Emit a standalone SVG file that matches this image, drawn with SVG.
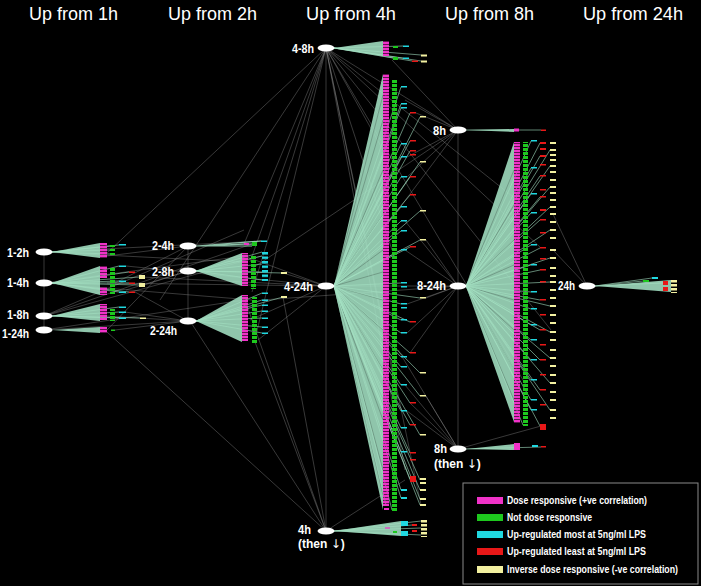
<svg xmlns="http://www.w3.org/2000/svg" width="701" height="586" viewBox="0 0 701 586">
<defs>
<pattern id="pm" width="10" height="3" patternUnits="userSpaceOnUse"><rect width="10" height="2.4" fill="#f032c8"/></pattern>
<pattern id="pg" width="10" height="4" patternUnits="userSpaceOnUse"><rect width="10" height="3" fill="#1ec81e"/></pattern>
<pattern id="py" width="10" height="4" patternUnits="userSpaceOnUse"><rect width="10" height="2.5" fill="#f2f0a0"/></pattern>
<pattern id="pc" width="10" height="4.5" patternUnits="userSpaceOnUse"><rect width="10" height="2.5" fill="#20d8e0"/></pattern>
</defs>
<style>
.hd{font-family:"Liberation Sans",Arial,sans-serif;font-size:18px;fill:#fff}
.lb{font-family:"Liberation Sans","DejaVu Sans",sans-serif;font-size:12px;font-weight:bold;fill:#fff}
.ar{font-family:"DejaVu Sans",sans-serif;font-weight:normal}
.lg{font-family:"Liberation Sans",Arial,sans-serif;font-size:10px;font-weight:bold;fill:#fff}
.nd{fill:#fff}
.fan{fill:#a3e0c3;opacity:.88}
.fl{stroke:#a3e0c3;stroke-width:.7;fill:none;opacity:.85}
.dk{stroke:#000;stroke-width:.6;opacity:.35}
.gr{stroke:#8c8c8c;stroke-width:.5;fill:none;opacity:.8}
.m{fill:#f032c8}.g{fill:#1ec81e}.c{fill:#20d8e0}.r{fill:#e81818}.y{fill:#f2f0a0}
</style>
<rect width="701" height="586" fill="#000"/>

<g id="headers">
<text class="hd" x="29" y="20" textLength="89" lengthAdjust="spacingAndGlyphs">Up from 1h</text>
<text class="hd" x="168" y="20" textLength="89" lengthAdjust="spacingAndGlyphs">Up from 2h</text>
<text class="hd" x="306" y="20" textLength="90" lengthAdjust="spacingAndGlyphs">Up from 4h</text>
<text class="hd" x="445" y="20" textLength="89" lengthAdjust="spacingAndGlyphs">Up from 8h</text>
<text class="hd" x="583" y="20" textLength="100" lengthAdjust="spacingAndGlyphs">Up from 24h</text>
</g>

<g id="connectors">
<path class="gr" d="M44,252V330M188,246V321M326,48V531M458,130V449"/>
<path class="gr" d="M326,48L107,253M326,48L160,300M326,48L244,244M326,48L250,262M326,48L252,292M326,48L256,335M326,48L383,150M326,48L392,250M326,48L398,400M326,48L405,470M326,48L421,505M326,48L458,130M326,48L541,248M326,48L517,200M326,48L551,330M326,48L526,385"/>
<path class="gr" d="M326,286L107,283M326,286L126,266M326,286L244,256M326,286L250,320M326,286L258,340M326,286L141,277M326,286L283,273"/>
<path class="gr" d="M326,531L245,300M326,531L255,342M326,531L190,321M326,531L107,332M326,531L283,297M326,531L405,480"/>
<path class="gr" d="M458,130L405,100M458,130L416,113M458,130L407,157M458,130L407,177M458,130L383,230M458,130L250,270M458,130L392,60"/>
<path class="gr" d="M458,286L405,221M458,286L405,250M458,286L407,304M458,286L410,353M458,286L426,298M458,286L426,240M458,286L407,333M458,286L262,300M458,286L334,286"/>
<path class="gr" d="M458,449L410,403M458,449L405,385M458,449L407,411M458,449L426,396M458,449L398,350M458,449L541,426"/>
<path class="gr" d="M587,286L553,250M587,286L553,214"/>
<path class="gr" d="M44,316L252,244M44,316L262,256M44,316L244,230M44,330L244,300M44,330L188,321M44,283L244,256M44,283L252,300M44,252L262,241M44,252L242,262"/>
<path class="gr" d="M188,246L107,256M188,246L115,283M188,271L126,290M188,271L141,286M188,321L107,316M188,321L125,312M188,321L115,330M188,321L135,292M188,246L107,330"/>
</g>

<g id="fans">
<polygon class="fan" points="52,252 100,243 100,258"/>
<path class="fl" d="M52,252L110,246M52,252L110,250M52,252L110,254M52,252L119,245"/>
<polygon class="fan" points="52,283 100,266 100,295"/>
<path class="fl" d="M52,283L119,266M52,283L119,281M52,283L119,292M52,283L129,272M52,283L129,283M52,283L129,292M52,283L139,277M52,283L139,285"/>
<polygon class="fan" points="52,316 100,304 100,321"/>
<path class="fl" d="M52,316L119,307M52,316L119,312M52,316L119,318M52,316L140,318"/>
<polygon class="fan" points="52,330 100,327 100,333"/>
<path class="fl" d="M196,246L244,244M196,246L252,244M196,246L261,241M196,246L252,246" style="stroke-width:1.2"/>
<polygon class="fan" points="196,271 242,253 242,286"/>
<path class="fl" d="M196,271L262,252M196,271L262,256M196,271L262,264M196,271L262,272M196,271L262,280M196,271L283,273"/>
<polygon class="fan" points="196,321 242,295 242,342"/>
<path class="fl" d="M196,321L262,293M196,321L262,300M196,321L262,305M196,321L262,311M196,321L262,318M196,321L262,327M196,321L262,333M196,321L283,297"/>
<polygon class="fan" points="334,48 383,41 383,56"/>
<path class="fl" d="M334,48L393,58M334,48L403,46M334,48L403,58M334,48L412,61M334,48L421,55M334,48L421,61"/>
<polygon class="fan" points="334,286 383,74 383,510"/>
<path class="dk" d="M334,286L383,120M334,286L383,170M334,286L383,215M334,286L383,250M334,286L383,272M334,286L383,300M334,286L383,330M334,286L383,370M334,286L383,420M334,286L383,470M334,286L383,95M334,286L383,495"/>
<path class="fl" d="M334,286L401,87M334,286L401,104M334,286L401,108M334,286L401,144M334,286L401,157M334,286L401,177M334,286L401,207M334,286L401,221M334,286L401,231M334,286L401,250M334,286L401,283M334,286L401,304M334,286L401,320M334,286L401,333M334,286L401,357M334,286L401,367M334,286L401,385M334,286L401,411M334,286L401,428M334,286L401,452M334,286L401,490M334,286L401,498M334,286L410,113M334,286L410,141M334,286L410,151M334,286L410,177M334,286L410,195M334,286L410,247M334,286L410,322M334,286L410,353M334,286L410,403M334,286L410,425M334,286L410,453M334,286L410,479M334,286L420,117M334,286L420,162M334,286L420,211M334,286L420,240M334,286L420,298M334,286L420,373M334,286L420,396M334,286L420,435M334,286L420,480M334,286L420,490M334,286L420,499M334,286L420,505M334,286L392,510M334,286L386,505"/>
<polygon class="fan" points="334,531 401,521 401,536"/>
<path class="fl" d="M334,531L421,521M334,531L421,528M334,531L421,535M334,531L412,525"/>
<polygon class="fan" points="466,130 514,129 514,132"/>
<path class="fl" d="M466,130L541,130"/>
<polygon class="fan" points="466,286 514,142 514,422"/>
<path class="dk" d="M466,286L514,170M466,286L514,205M466,286L514,240M466,286L514,265M466,286L514,300M466,286L514,330M466,286L514,370M466,286L514,400"/>
<path class="fl" d="M466,286L531,141M466,286L531,168M466,286L531,194M466,286L531,213M466,286L531,245M466,286L531,265M466,286L531,292M466,286L531,309M466,286L531,325M466,286L531,340M466,286L531,360M466,286L531,380M466,286L531,400M466,286L531,410M466,286L540,143M466,286L540,156M466,286L540,176M466,286L540,197M466,286L540,220M466,286L540,248M466,286L540,270M466,286L540,300M466,286L540,330M466,286L540,360M466,286L540,390M466,286L540,426M466,286L550,150M466,286L550,166M466,286L550,187M466,286L550,207M466,286L550,230M466,286L550,258M466,286L550,282M466,286L550,306M466,286L550,332M466,286L550,358M466,286L550,383M466,286L550,410M466,286L523,425"/>
<polygon class="fan" points="466,449 514,444 514,450"/>
<path class="fl" d="M466,449L541,447"/>
<polygon class="fan" points="595,286 671,280 671,292"/>
<path class="fl" d="M595,286L643,281M595,286L652,278M595,286L663,283"/>
</g>

<g id="genes-1h">
<rect x="100" y="243" width="7" height="15" fill="url(#pm)"/>
<rect class="g" x="110" y="245" width="5" height="2"/><rect class="g" x="110" y="249" width="5" height="2"/><rect class="g" x="110" y="253" width="5" height="2"/>
<rect class="c" x="119" y="244" width="7" height="1.5"/>
<rect x="100" y="266" width="7" height="12" fill="url(#pm)"/>
<rect x="100" y="287" width="7" height="8" fill="url(#pm)"/>
<rect x="110" y="267" width="5" height="27" fill="url(#pg)"/>
<rect class="c" x="119" y="265.5" width="7" height="1.5"/><rect class="c" x="119" y="280.5" width="7" height="1.5"/><rect class="c" x="119" y="291.5" width="7" height="1.5"/>
<rect class="r" x="129" y="271.5" width="6" height="1.5"/><rect class="r" x="129" y="282.5" width="6" height="1.5"/><rect class="r" x="129" y="291.5" width="6" height="1.5"/>
<rect x="139" y="275" width="6" height="4" class="y"/><rect x="139" y="283" width="6" height="4" class="y"/>
<rect x="100" y="304" width="7" height="16" fill="url(#pm)"/>
<rect x="110" y="309" width="5" height="12" fill="url(#pg)"/>
<rect class="c" x="119" y="306.5" width="7" height="1.5"/><rect class="c" x="119" y="311.5" width="7" height="1.5"/><rect class="c" x="119" y="317.5" width="7" height="1.5"/>
<rect class="y" x="140" y="317.5" width="6" height="1.5"/>
<rect x="100" y="327" width="7" height="6" fill="url(#pm)"/>
<rect class="g" x="111" y="329.5" width="4" height="1.5"/>
</g>

<g id="genes-2h">
<rect class="m" x="244" y="243" width="5" height="2"/><rect class="g" x="252" y="242" width="5" height="4"/><rect class="c" x="261" y="240.5" width="6" height="1.5"/>
<rect x="242" y="253" width="6" height="33" fill="url(#pm)"/>
<rect x="251" y="256" width="5" height="33" fill="url(#pg)"/>
<rect x="262" y="251" width="6" height="30" fill="url(#pc)"/>
<rect class="y" x="281" y="272" width="6" height="2"/><rect class="y" x="281" y="296" width="6" height="2"/>
<rect x="242" y="295" width="6" height="46" fill="url(#pm)"/>
<rect x="252" y="297" width="5" height="46" fill="url(#pg)"/>
<rect class="c" x="262" y="292.5" width="6" height="1.5"/><rect class="c" x="262" y="299.5" width="6" height="1.5"/><rect class="c" x="262" y="304.5" width="6" height="1.5"/><rect class="c" x="262" y="310.5" width="6" height="1.5"/><rect class="c" x="262" y="317.5" width="6" height="1.5"/><rect class="c" x="262" y="326.5" width="6" height="1.5"/><rect class="c" x="262" y="332.5" width="6" height="1.5"/>
</g>

<g id="genes-4h">
<rect x="383" y="41" width="6" height="15" fill="url(#pm)"/>
<rect class="g" x="393" y="46" width="5" height="2"/><rect class="g" x="393" y="57" width="5" height="3"/>
<rect class="c" x="403" y="45.5" width="6" height="1.5"/><rect class="c" x="403" y="57.5" width="6" height="1.5"/>
<rect class="r" x="412" y="60.5" width="6" height="1.5"/>
<rect class="y" x="421" y="54.5" width="6" height="2"/><rect class="y" x="421" y="60.5" width="6" height="2"/>
<rect x="383" y="74" width="6" height="432" fill="url(#pm)"/>
<rect class="m" x="384" y="508" width="5" height="2"/>
<rect x="392" y="79" width="5" height="433" fill="url(#pg)"/>
<g class="c">
<rect x="401" y="86" width="6" height="1.5"/><rect x="401" y="103" width="6" height="1.5"/><rect x="401" y="107" width="6" height="1.5"/><rect x="401" y="143" width="6" height="1.5"/><rect x="401" y="156" width="6" height="1.5"/><rect x="401" y="176" width="6" height="1.5"/><rect x="401" y="206" width="6" height="1.5"/><rect x="401" y="220" width="6" height="1.5"/><rect x="401" y="230" width="6" height="1.5"/><rect x="401" y="249" width="6" height="1.5"/><rect x="401" y="282" width="6" height="1.5"/><rect x="401" y="286" width="6" height="1.5"/><rect x="401" y="303" width="6" height="1.5"/><rect x="401" y="307" width="6" height="1.5"/><rect x="401" y="319" width="6" height="1.5"/><rect x="401" y="332" width="6" height="1.5"/><rect x="401" y="356" width="6" height="1.5"/><rect x="401" y="366" width="6" height="1.5"/><rect x="401" y="384" width="6" height="1.5"/><rect x="401" y="410" width="6" height="1.5"/><rect x="401" y="427" width="6" height="1.5"/><rect x="401" y="451" width="6" height="1.5"/><rect x="401" y="489" width="6" height="2"/><rect x="401" y="497" width="6" height="2"/>
</g>
<g class="r">
<rect x="410" y="112" width="6" height="1.5"/><rect x="410" y="140" width="6" height="1.5"/><rect x="410" y="150" width="6" height="1.5"/><rect x="410" y="154" width="6" height="1.5"/><rect x="410" y="176" width="6" height="1.5"/><rect x="410" y="194" width="6" height="1.5"/><rect x="410" y="246" width="6" height="1.5"/><rect x="410" y="321" width="6" height="1.5"/><rect x="410" y="352" width="6" height="1.5"/><rect x="410" y="402" width="6" height="1.5"/><rect x="410" y="424" width="6" height="1.5"/><rect x="410" y="452" width="6" height="1.5"/><rect x="410" y="459" width="6" height="1.5"/><rect x="410" y="476" width="6" height="6"/>
</g>
<g class="y">
<rect x="420" y="116" width="6" height="1.5"/><rect x="420" y="161" width="6" height="1.5"/><rect x="420" y="210" width="6" height="1.5"/><rect x="420" y="239" width="6" height="1.5"/><rect x="420" y="297" width="6" height="1.5"/><rect x="420" y="372" width="6" height="1.5"/><rect x="420" y="395" width="6" height="1.5"/><rect x="420" y="434" width="6" height="1.5"/><rect x="420" y="478" width="6" height="2"/><rect x="420" y="482" width="6" height="2"/><rect x="420" y="489" width="6" height="2"/><rect x="420" y="498" width="6" height="2"/><rect x="420" y="504" width="6" height="2"/>
</g>
<rect class="m" x="385" y="527" width="5" height="2" opacity=".6"/>
<rect class="g" x="393" y="531" width="4" height="2"/>
<rect class="c" x="401" y="521" width="7" height="5"/><rect class="c" x="401" y="531" width="7" height="5"/>
<rect class="r" x="412" y="524" width="5" height="2"/><rect class="r" x="412" y="530" width="5" height="2"/>
<rect x="421" y="519" width="6" height="18" fill="url(#py)"/>
</g>

<g id="genes-8h">
<rect class="m" x="514" y="128.5" width="5" height="3"/><rect class="r" x="541" y="129.5" width="5" height="1.5"/>
<rect x="514" y="142" width="6" height="281" fill="url(#pm)"/>
<rect x="523" y="142" width="5" height="284" fill="url(#pg)"/>
<g class="c">
<rect x="531" y="140" width="6" height="1.5"/><rect x="531" y="167" width="6" height="1.5"/><rect x="531" y="193" width="6" height="1.5"/><rect x="531" y="212" width="6" height="1.5"/><rect x="531" y="244" width="6" height="1.5"/><rect x="531" y="264" width="6" height="1.5"/><rect x="531" y="291" width="6" height="1.5"/><rect x="531" y="308" width="6" height="1.5"/><rect x="531" y="324" width="6" height="1.5"/><rect x="531" y="339" width="6" height="1.5"/><rect x="531" y="359" width="6" height="1.5"/><rect x="531" y="379" width="6" height="1.5"/><rect x="531" y="399" width="6" height="1.5"/><rect x="531" y="409" width="6" height="1.5"/>
</g>
<g class="r">
<rect x="540" y="142" width="6" height="2"/><rect x="540" y="148" width="6" height="2"/><rect x="540" y="155" width="6" height="2"/><rect x="540" y="164" width="6" height="1.5"/><rect x="540" y="175" width="6" height="1.5"/><rect x="540" y="189" width="6" height="1.5"/><rect x="540" y="196" width="6" height="1.5"/><rect x="540" y="209" width="6" height="2"/><rect x="540" y="219" width="6" height="1.5"/><rect x="540" y="232" width="6" height="1.5"/><rect x="540" y="247" width="6" height="1.5"/><rect x="540" y="258" width="6" height="1.5"/><rect x="540" y="269" width="6" height="1.5"/><rect x="540" y="281" width="6" height="1.5"/><rect x="540" y="299" width="6" height="1.5"/><rect x="540" y="314" width="6" height="1.5"/><rect x="540" y="329" width="6" height="1.5"/><rect x="540" y="344" width="6" height="1.5"/><rect x="540" y="359" width="6" height="1.5"/><rect x="540" y="374" width="6" height="1.5"/><rect x="540" y="389" width="6" height="1.5"/><rect x="540" y="404" width="6" height="1.5"/><rect x="540" y="424" width="6" height="6"/>
</g>
<g class="y">
<rect x="550" y="142" width="6" height="2"/><rect x="550" y="149" width="6" height="2"/><rect x="550" y="154" width="6" height="2"/><rect x="550" y="159" width="6" height="2"/><rect x="550" y="165" width="6" height="2"/><rect x="550" y="171" width="6" height="2"/><rect x="550" y="179" width="6" height="2"/><rect x="550" y="186" width="6" height="2"/><rect x="550" y="192" width="6" height="2"/><rect x="550" y="199" width="6" height="2"/><rect x="550" y="206" width="6" height="2"/><rect x="550" y="213" width="6" height="2"/><rect x="550" y="221" width="6" height="2"/><rect x="550" y="229" width="6" height="2"/><rect x="550" y="237" width="6" height="2"/><rect x="550" y="249" width="6" height="2"/><rect x="550" y="257" width="6" height="2"/><rect x="550" y="267" width="6" height="2"/><rect x="550" y="275" width="6" height="2"/><rect x="550" y="281" width="6" height="2"/><rect x="550" y="289" width="6" height="2"/><rect x="550" y="297" width="6" height="2"/><rect x="550" y="305" width="6" height="2"/><rect x="550" y="314" width="6" height="2"/><rect x="550" y="322" width="6" height="2"/><rect x="550" y="331" width="6" height="2"/><rect x="550" y="339" width="6" height="2"/><rect x="550" y="349" width="6" height="2"/><rect x="550" y="357" width="6" height="2"/><rect x="550" y="365" width="6" height="2"/><rect x="550" y="374" width="6" height="2"/><rect x="550" y="382" width="6" height="2"/><rect x="550" y="391" width="6" height="2"/><rect x="550" y="399" width="6" height="2"/><rect x="550" y="409" width="6" height="2"/><rect x="550" y="417" width="6" height="2"/>
</g>
<rect class="m" x="514" y="443" width="6" height="7"/><rect class="c" x="532" y="445" width="6" height="2"/><rect class="r" x="541" y="446" width="5" height="1.5"/>
</g>

<g id="genes-24h">
<rect class="g" x="643" y="280" width="6" height="2"/><rect class="c" x="652" y="277" width="6" height="2"/>
<rect class="r" x="663" y="281" width="5" height="4"/><rect class="r" x="663" y="287" width="5" height="4"/>
<rect x="671" y="280" width="6" height="13" fill="url(#py)"/>
</g>

<g id="node-1-2h"><ellipse class="nd" cx="44" cy="252" rx="8.5" ry="3.5"/><text class="lb" x="7" y="257" textLength="22" lengthAdjust="spacingAndGlyphs">1-2h</text></g>
<g id="node-1-4h"><ellipse class="nd" cx="44" cy="283" rx="8.5" ry="3.5"/><text class="lb" x="7" y="287" textLength="22" lengthAdjust="spacingAndGlyphs">1-4h</text></g>
<g id="node-1-8h"><ellipse class="nd" cx="44" cy="316" rx="8.5" ry="3.5"/><text class="lb" x="7" y="319" textLength="22" lengthAdjust="spacingAndGlyphs">1-8h</text></g>
<g id="node-1-24h"><ellipse class="nd" cx="44" cy="330" rx="8.5" ry="3.5"/><text class="lb" x="2" y="338" textLength="27" lengthAdjust="spacingAndGlyphs">1-24h</text></g>
<g id="node-2-4h"><ellipse class="nd" cx="188" cy="246" rx="8.5" ry="3.5"/><text class="lb" x="152" y="250" textLength="22" lengthAdjust="spacingAndGlyphs">2-4h</text></g>
<g id="node-2-8h"><ellipse class="nd" cx="188" cy="271" rx="8.5" ry="3.5"/><text class="lb" x="152" y="276" textLength="22" lengthAdjust="spacingAndGlyphs">2-8h</text></g>
<g id="node-2-24h"><ellipse class="nd" cx="188" cy="321" rx="8.5" ry="3.5"/><text class="lb" x="150" y="335" textLength="27" lengthAdjust="spacingAndGlyphs">2-24h</text></g>
<g id="node-4-8h"><ellipse class="nd" cx="326" cy="48" rx="8.5" ry="3.5"/><text class="lb" x="292" y="53" textLength="22" lengthAdjust="spacingAndGlyphs">4-8h</text></g>
<g id="node-4-24h"><ellipse class="nd" cx="326" cy="286" rx="8.5" ry="3.5"/><text class="lb" x="284" y="291" textLength="29" lengthAdjust="spacingAndGlyphs">4-24h</text></g>
<g id="node-4h"><ellipse class="nd" cx="326" cy="531" rx="8.5" ry="3.5"/><text class="lb" x="298" y="534" textLength="13" lengthAdjust="spacingAndGlyphs">4h</text><text class="lb" x="298" y="548">(then <tspan class="ar">↓</tspan>)</text></g>
<g id="node-8h"><ellipse class="nd" cx="458" cy="130" rx="8.5" ry="3.5"/><text class="lb" x="433" y="135" textLength="13" lengthAdjust="spacingAndGlyphs">8h</text></g>
<g id="node-8-24h"><ellipse class="nd" cx="458" cy="286" rx="8.5" ry="3.5"/><text class="lb" x="417" y="290" textLength="29" lengthAdjust="spacingAndGlyphs">8-24h</text></g>
<g id="node-8h-then"><ellipse class="nd" cx="458" cy="449" rx="8.5" ry="3.5"/><text class="lb" x="434" y="453" textLength="13" lengthAdjust="spacingAndGlyphs">8h</text><text class="lb" x="434" y="468">(then <tspan class="ar">↓</tspan>)</text></g>
<g id="node-24h"><ellipse class="nd" cx="587" cy="286" rx="8.5" ry="3.5"/><text class="lb" x="558" y="290" textLength="17" lengthAdjust="spacingAndGlyphs">24h</text></g>

<g id="legend">
<rect x="463" y="483" width="235" height="101" fill="#000" stroke="#8a8a8a" stroke-width="1"/>
<rect class="m" x="477" y="497" width="26" height="7"/>
<text class="lg" x="507" y="504" textLength="140" lengthAdjust="spacingAndGlyphs">Dose responsive (+ve correlation)</text>
<rect class="g" x="477" y="514" width="26" height="7"/>
<text class="lg" x="507" y="521" textLength="85" lengthAdjust="spacingAndGlyphs">Not dose responsive</text>
<rect class="c" x="477" y="531" width="26" height="7"/>
<text class="lg" x="507" y="538" textLength="139" lengthAdjust="spacingAndGlyphs">Up-regulated most at 5ng/ml LPS</text>
<rect class="r" x="477" y="548" width="26" height="7"/>
<text class="lg" x="507" y="555" textLength="139" lengthAdjust="spacingAndGlyphs">Up-regulated least at 5ng/ml LPS</text>
<rect class="y" x="477" y="566" width="26" height="7"/>
<text class="lg" x="507" y="573" textLength="171" lengthAdjust="spacingAndGlyphs">Inverse dose responsive (-ve correlation)</text>
</g>
</svg>
